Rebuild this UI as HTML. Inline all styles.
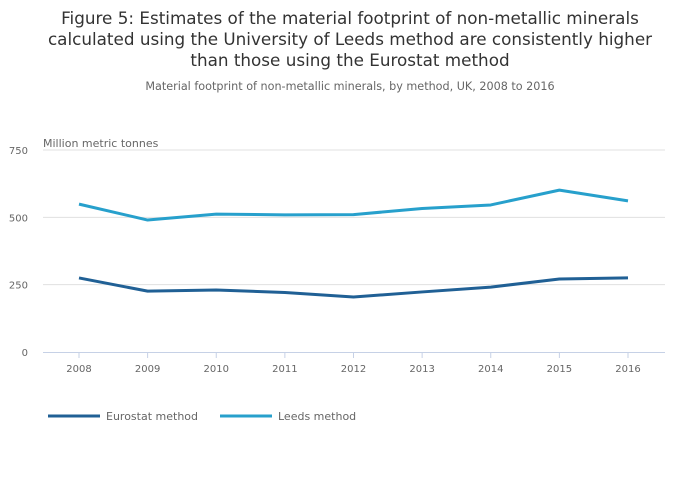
<!DOCTYPE html>
<html><head><meta charset="utf-8"><style>
body{margin:0;background:#fff;font-family:"DejaVu Sans","Liberation Sans",sans-serif;}
#wrap{position:relative;width:700px;height:502px;overflow:hidden;}
</style></head><body>
<div id="wrap">
<svg id="chart" width="700" height="502" xmlns="http://www.w3.org/2000/svg" font-family="DejaVu Sans, Liberation Sans, sans-serif">
<text x="350" y="24" text-anchor="middle" font-size="16.8" fill="#333">Figure 5: Estimates of the material footprint of non-metallic minerals</text>
<text x="350" y="45" text-anchor="middle" font-size="16.8" fill="#333">calculated using the University of Leeds method are consistently higher</text>
<text x="350" y="66" text-anchor="middle" font-size="16.8" fill="#333">than those using the Eurostat method</text>
<text x="350" y="90" text-anchor="middle" font-size="11.2" fill="#666">Material footprint of non-metallic minerals, by method, UK, 2008 to 2016</text>
<text x="43" y="147" font-size="11" fill="#666">Million metric tonnes</text>
<g id="grid"></g><g id="axes"></g><g id="series"></g>
<g>
<line x1="48" y1="416" x2="100" y2="416" stroke="#206095" stroke-width="3"/>
<text x="106" y="420" font-size="11" fill="#666">Eurostat method</text>
<line x1="220" y1="416" x2="272" y2="416" stroke="#27a0cc" stroke-width="3"/>
<text x="278" y="420" font-size="11" fill="#666">Leeds method</text>
</g>
</svg>
</div>
<script>
const years=["2008","2009","2010","2011","2012","2013","2014","2015","2016"];
const eurostat=[275,226,230,221,204,223,241,271,275];
const leeds=[549,490,512,509,510,533,546,601,561];
const yTicks=[0,250,500,750];
const NS="http://www.w3.org/2000/svg";
const x=i=>79+i*(628-79)/(years.length-1);
const y=v=>352-v*(352-150)/750;
function mk(t,a,p){const e=document.createElementNS(NS,t);for(const k in a)e.setAttribute(k,a[k]);p.appendChild(e);return e;}
const grid=document.getElementById('grid'),axes=document.getElementById('axes'),ser=document.getElementById('series');
yTicks.forEach(v=>{
  if(v>0){const l=mk('line',{x1:43,x2:665,y1:y(v),y2:y(v),stroke:'#e0e0e0','stroke-width':1},grid);
  
  }
  const t=mk('text',{x:28,y:y(v)+4,'text-anchor':'end','font-size':10,fill:'#666'},axes);t.textContent=v;
  
  
});
const ax=mk('line',{x1:43,x2:665,y1:352.5,y2:352.5,stroke:'#c6d1e6','stroke-width':1},axes);


years.forEach((yr,i)=>{
  const tk=mk('line',{x1:x(i),x2:x(i),y1:352,y2:358,stroke:'#c6d1e6'},axes);
  
  
  const t=mk('text',{x:x(i),y:372,'text-anchor':'middle','font-size':10,fill:'#666'},axes);t.textContent=yr;
  
  
});
function line(d,c,n){const p=mk('polyline',{points:d.map((v,i)=>x(i)+','+y(v)).join(' '),fill:'none',stroke:c,'stroke-width':3,'stroke-linejoin':'round'},ser);
  
  }
line(eurostat,'#206095','eurostat-line');
line(leeds,'#27a0cc','leeds-line');
</script>
</body></html>
